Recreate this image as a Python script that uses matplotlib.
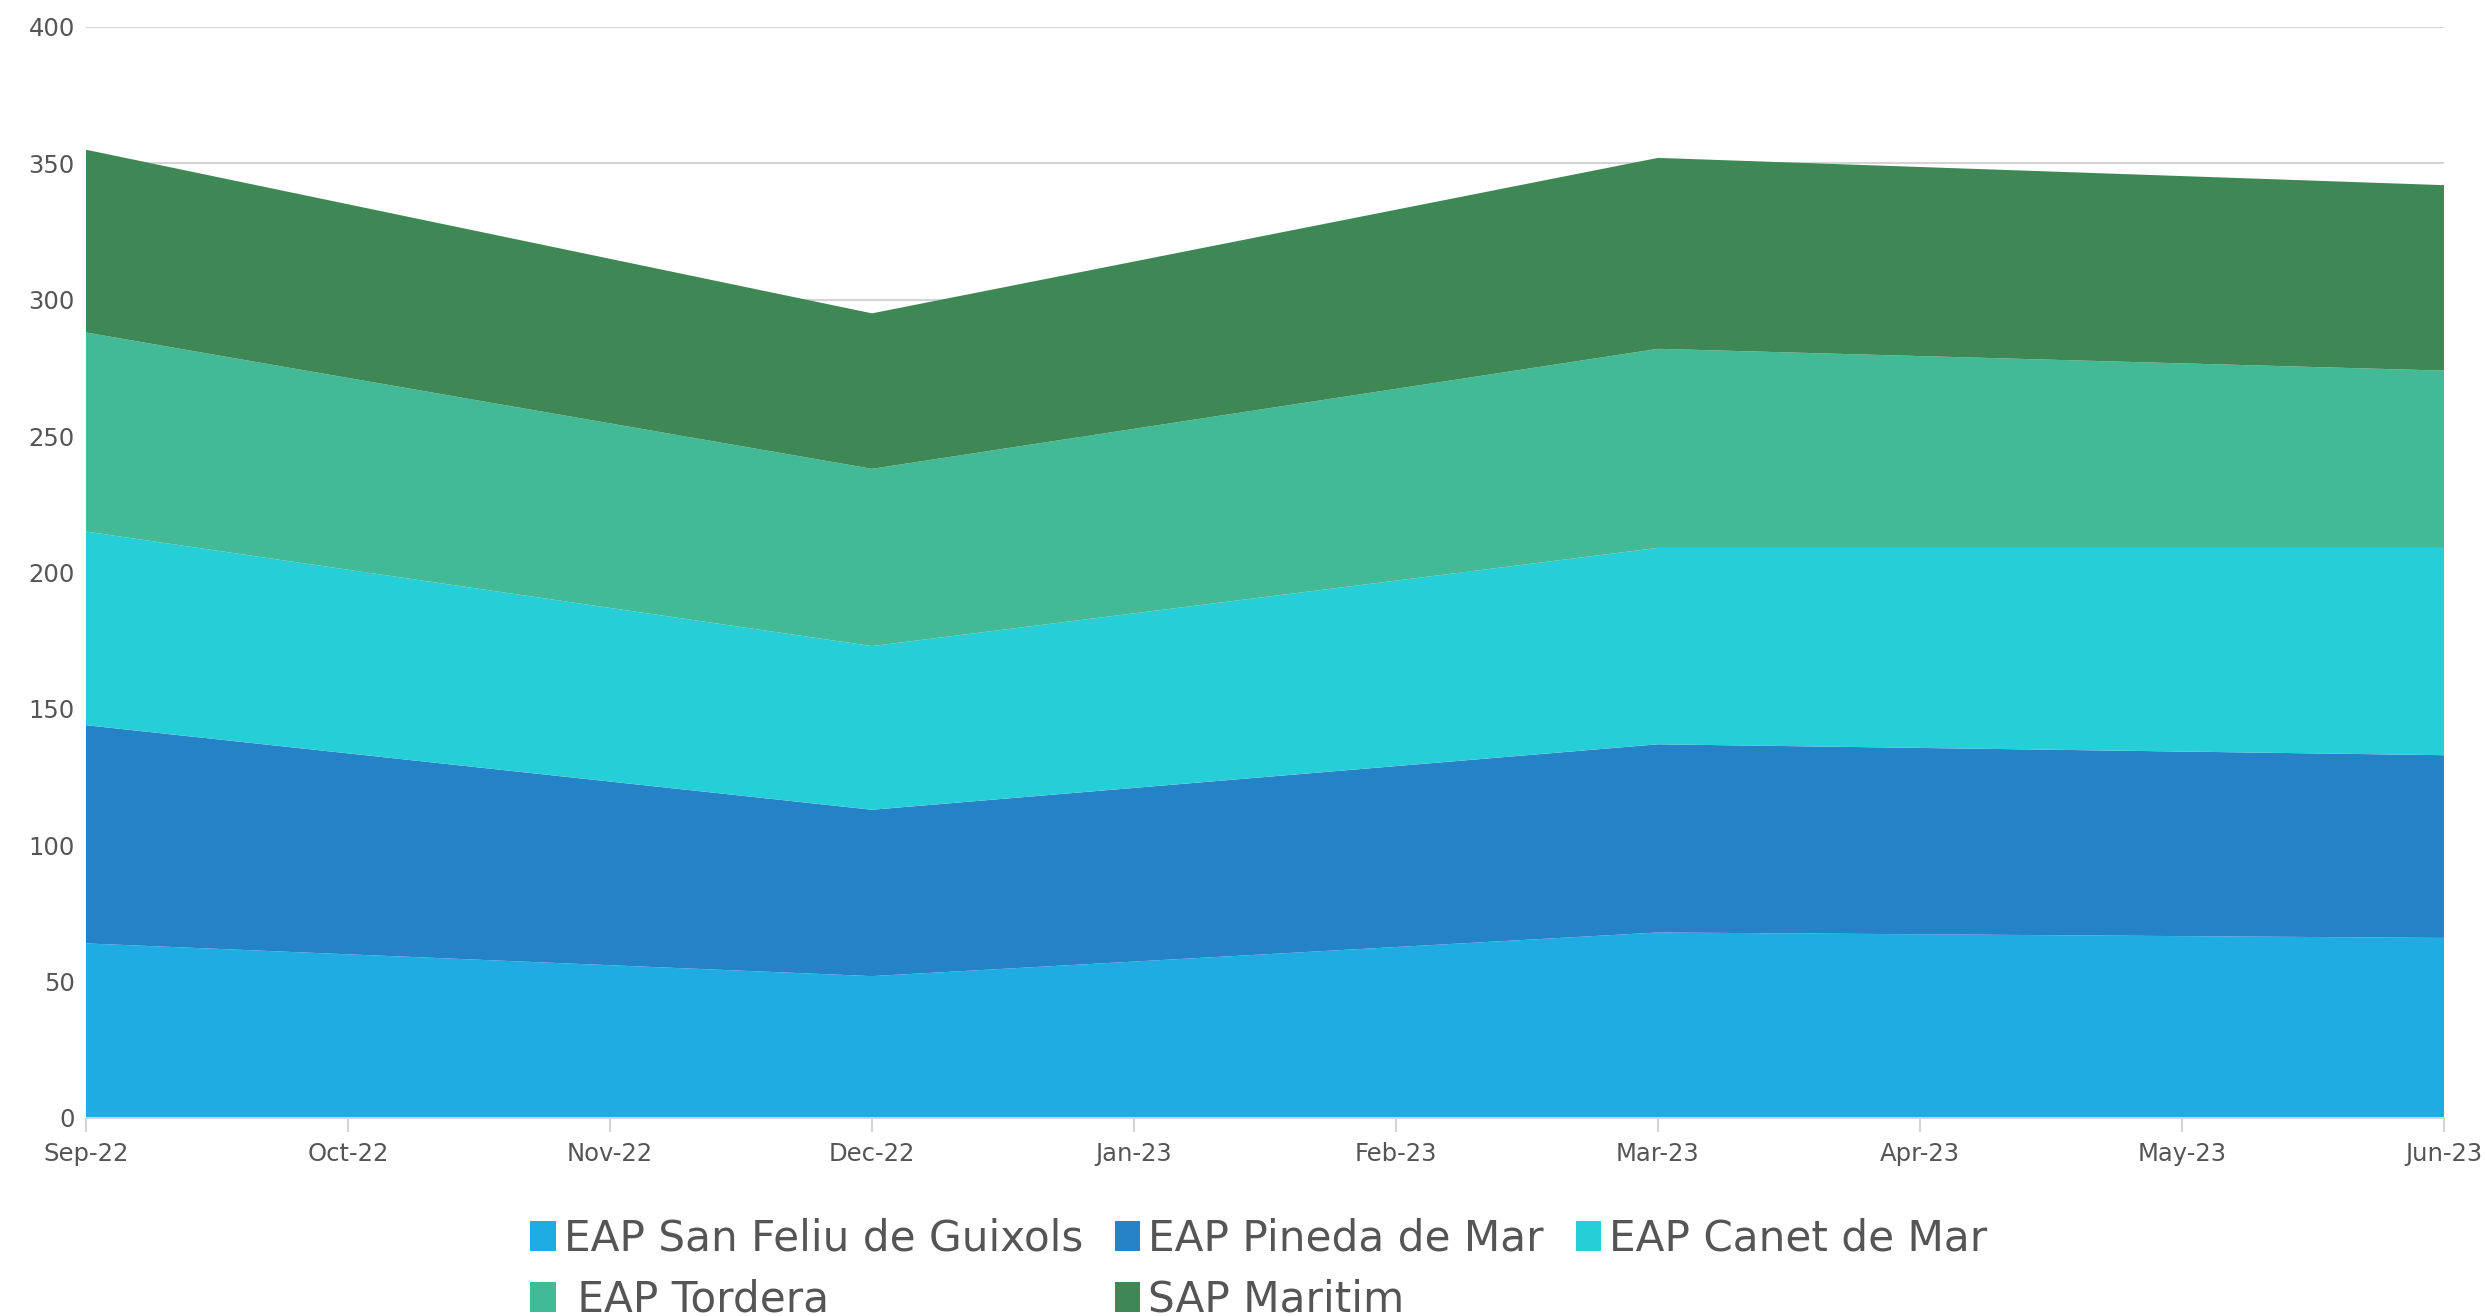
import matplotlib
matplotlib.use("Agg")
import matplotlib.pyplot as plt
from matplotlib.patches import Patch
import numpy as np

months = ["Sep-22", "Oct-22", "Nov-22", "Dec-22", "Jan-23", "Feb-23",
          "Mar-23", "Apr-23", "May-23", "Jun-23"]
data_idx = [0, 3, 6, 9]  # months with data points (Sep, Dec, Mar, Jun)

series_names = ["EAP San Feliu de Guixols", "EAP Pineda de Mar", "EAP Canet de Mar",
                " EAP Tordera", "SAP Maritim"]
san_feliu = [64, 52, 68, 66]
pineda = [80, 61, 69, 67]
canet = [71, 60, 72, 76]
tordera = [73, 65, 73, 65]
maritim = [67, 57, 70, 68]
colors = ["#1EACE2", "#2682C6", "#26CED8", "#43BA96", "#3E8855"]

yticks = [0, 50, 100, 150, 200, 250, 300, 350, 400]

fig = plt.figure(figsize=(24.85, 13.16), dpi=100)
ax = fig.add_axes([0.0346, 0.1505, 0.9489, 0.829])

ax.stackplot(data_idx, san_feliu, pineda, canet, tordera, maritim,
             colors=colors, linewidth=0, zorder=2)

ax.set_xlim(0, len(months) - 1)
ax.set_ylim(0, 400)
ax.set_yticks(yticks)
ax.set_xticks(range(len(months)))
ax.set_xticklabels(months)
ax.grid(axis="y", color="#d4d4d4", linewidth=1.5, zorder=0)
ax.set_axisbelow(True)
for s in ["top", "right", "left"]:
    ax.spines[s].set_visible(False)
ax.spines["bottom"].set_color("#d4d4d4")
ax.spines["bottom"].set_linewidth(1.5)
ax.tick_params(axis="y", length=0, labelsize=17.5, labelcolor="#555555", pad=8)
ax.tick_params(axis="x", length=10, width=1.5, color="#d4d4d4", labelsize=17.5,
               labelcolor="#555555", pad=7)

handles = [Patch(facecolor=c, edgecolor="none") for c in colors]
order = [0, 3, 1, 4, 2]
leg = fig.legend([handles[i] for i in order], [series_names[i] for i in order],
                 ncol=3, loc="upper center", bbox_to_anchor=(0.5066, 0.0905),
                 frameon=False, fontsize=30.3, handlelength=0.6, handleheight=0.7,
                 handletextpad=0.2, columnspacing=0.75, labelspacing=0.45,
                 borderpad=0)
for t in leg.get_texts():
    t.set_color("#555555")

fig.savefig("out.png", dpi=100)
